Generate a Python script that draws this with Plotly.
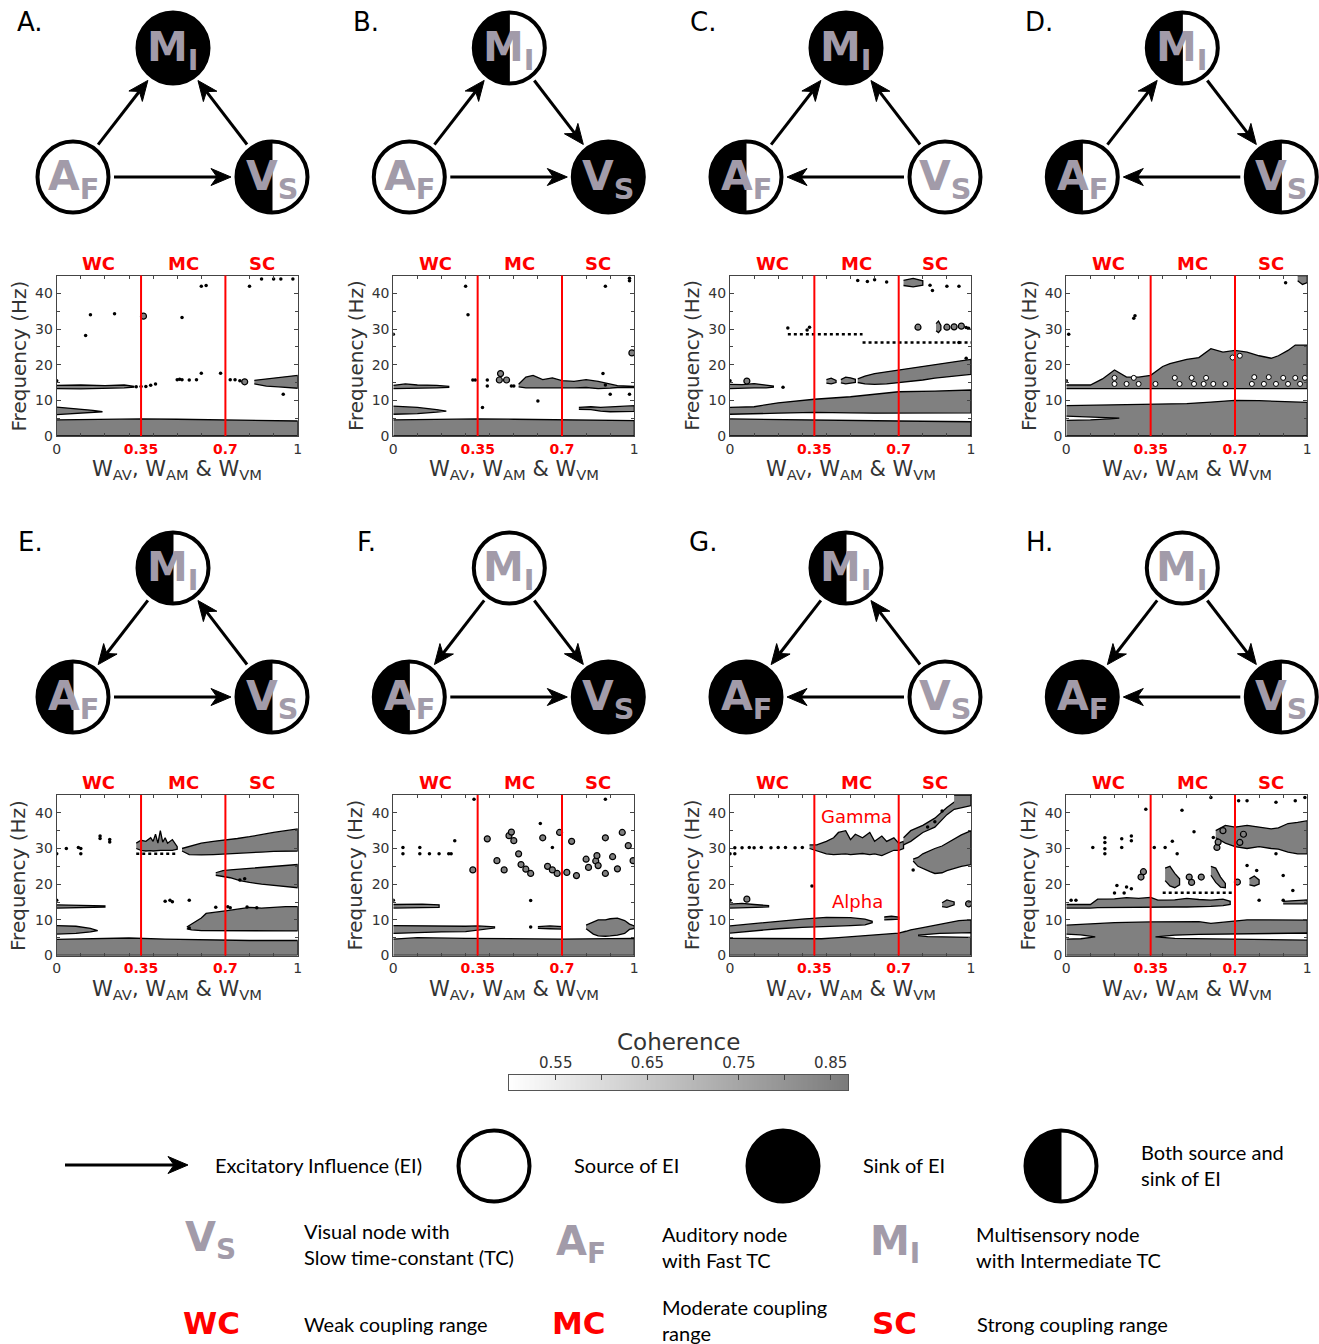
import numpy as np
import plotly.graph_objects as go

W, H = 1319, 1344

# ---------------------------------------------------------------- data
PANEL_LETTERS = ["A.", "B.", "C.", "D.", "E.", "F.", "G.", "H."]
NODE_M = ["sink", "both", "sink", "both", "both", "source", "both", "source"]
NODE_A = ["source", "source", "both", "both", "both", "both", "sink", "sink"]
NODE_V = ["both", "sink", "source", "both", "both", "sink", "source", "both"]
EDGES = [
    [("A", "M"), ("V", "M"), ("A", "V")],
    [("A", "M"), ("M", "V"), ("A", "V")],
    [("A", "M"), ("V", "M"), ("V", "A")],
    [("A", "M"), ("M", "V"), ("V", "A")],
    [("M", "A"), ("V", "M"), ("A", "V")],
    [("M", "A"), ("M", "V"), ("A", "V")],
    [("M", "A"), ("V", "M"), ("V", "A")],
    [("M", "A"), ("M", "V"), ("V", "A")],
]
NODE_TEXT = {"M": "<b>M<sub>I</sub></b>", "A": "<b>A<sub>F</sub></b>", "V": "<b>V<sub>S</sub></b>"}

X_TICKS = [0, 0.35, 0.7, 1]
X_TICK_LABELS = ["0", "0.35", "0.7", "1"]
X_MINOR = [0.1, 0.2, 0.3, 0.4, 0.5, 0.6, 0.7, 0.8, 0.9]
Y_TICKS = [0, 10, 20, 30, 40]
Y_MINOR = [5, 15, 25, 35]
COUPLING_BOUNDS = [0.35, 0.7]
COUPLING_NAMES = ["WC", "MC", "SC"]
COUPLING_CENTERS = [0.175, 0.525, 0.85]
CB_TICKS = [0.55, 0.65, 0.75, 0.85]
CB_MINOR = [0.6, 0.7, 0.8]
CB_RANGE = [0.499, 0.869]

# bands: (coupling strengths, lower freq, upper freq) of coherent regions
A_BANDS = [
    ([0, 0.2, 0.35, 0.5, 0.75, 1], [0, 0, 0, 0, 0, 0], [4.5, 4.7, 4.8, 4.7, 4.4, 4.2]),
    ([0, 0.08, 0.15, 0.19], [6.0, 6.3, 6.6, 6.8], [8.1, 7.7, 7.2, 6.8]),
    ([0, 0.1, 0.2, 0.28, 0.32], [13.3, 13.2, 13.4, 13.5, 13.7], [14.2, 14.3, 14.1, 14.3, 13.9]),
    ([0.82, 0.87, 0.92, 0.96, 1.0], [14.6, 14.0, 13.8, 13.5, 13.4], [15.6, 16.0, 16.2, 16.7, 17.0]),
]
A_HOLES = []
A_BLOBS = [(0.78, 15.2), (0.36, 33.6)]
A_DOTS = [(0.0, 15.5), (0.14, 34.0), (0.24, 34.3), (0.33, 13.8), (0.35, 13.9), (0.37, 13.9), (0.39, 14.2),
          (0.41, 14.6), (0.5, 15.8), (0.51, 15.9), (0.52, 15.8), (0.55, 15.7), (0.58, 15.8), (0.6, 17.6),
          (0.6, 42.0), (0.62, 42.2), (0.68, 17.6), (0.72, 15.8), (0.74, 15.8), (0.76, 15.5), (0.85, 44),
          (0.9, 44), (0.94, 11.7), (0.98, 44), (0.93, 44), (0.12, 28.2), (0.52, 33.2), (0.8, 42)]
A_DOTLINES = []

B_BANDS = [
    ([0, 0.2, 0.35, 0.5, 0.75, 1], [0, 0, 0, 0, 0, 0], [4.5, 4.7, 4.8, 4.7, 4.4, 4.3]),
    ([0, 0.1, 0.18, 0.22], [6.1, 6.3, 6.7, 7.0], [8.4, 8.0, 7.4, 7.0]),
    ([0, 0.05, 0.1, 0.18, 0.23], [13.3, 13.2, 13.4, 13.5, 13.6], [14.2, 14.6, 14.3, 14.2, 13.9]),
    ([0.52, 0.55, 0.58, 0.62, 0.66, 0.7, 0.75, 0.8, 0.85, 0.9, 0.93, 1.0],
     [13.8, 13.5, 13.5, 13.4, 13.4, 13.5, 13.5, 13.6, 13.3, 13.4, 13.6, 13.6],
     [14.5, 16.5, 17.0, 15.8, 16.3, 15.5, 15.3, 15.8, 15.3, 14.5, 14.1, 13.9]),
    ([0.77, 0.82, 0.86, 0.9, 0.95, 1.0], [7.5, 7.4, 7.0, 6.8, 6.8, 6.9], [8.0, 8.2, 8.0, 8.1, 8.4, 8.5]),
]
B_HOLES = []
B_BLOBS = [(0.445, 17.5), (0.44, 15.7), (0.47, 15.7), (0.99, 23.3)]
B_DOTS = [(0.0, 28.5), (0.3, 42), (0.31, 34), (0.33, 15.7), (0.34, 15.7), (0.39, 15.7), (0.39, 14),
          (0.37, 8), (0.49, 14), (0.5, 14), (0.6, 9.8), (0.87, 17.5), (0.88, 14.3), (0.9, 11.7),
          (0.98, 11.7), (0.98, 43.5), (0.98, 44.2), (0.88, 42)]
B_DOTLINES = []

C_BANDS = [
    ([0, 0.35, 0.7, 1], [0, 0, 0, 0], [4.8, 4.4, 4.2, 4.0]),
    ([0, 0.1, 0.2, 0.35, 0.5, 0.6, 0.7, 0.85, 1], [6.1, 6.2, 6.4, 6.6, 6.5, 6.4, 6.3, 6.4, 6.5],
     [8.0, 8.2, 9.3, 10.3, 11.0, 11.8, 12.4, 12.6, 12.9]),
    ([0.53, 0.56, 0.6, 0.65, 0.7, 0.75, 0.8, 0.85, 0.9, 0.95, 1.0],
     [15.0, 14.6, 14.5, 14.6, 14.8, 15.3, 15.7, 16.2, 16.6, 17.0, 17.3],
     [16.0, 16.8, 17.5, 18.0, 18.5, 19.0, 19.3, 19.8, 20.4, 21.0, 21.5]),
    ([0, 0.05, 0.1, 0.15, 0.18], [13.3, 13.4, 13.5, 13.5, 13.7], [14.5, 14.4, 14.7, 14.2, 14.0]),
    ([0.72, 0.76, 0.8], [42.2, 41.8, 42.3], [43.6, 44.2, 43.5]),
    ([0.855, 0.865, 0.875], [29.5, 29.0, 29.8], [31.5, 32.2, 31.0]),
    ([0.40, 0.42, 0.44], [14.8, 14.6, 15.0], [15.8, 16.2, 15.6]),
    ([0.46, 0.48, 0.5, 0.52], [14.9, 14.6, 14.7, 15.0], [15.8, 16.5, 16.3, 15.9]),
]
C_HOLES = []
C_BLOBS = [(0.07, 15.4), (0.78, 30.5), (0.9, 30.5), (0.93, 30.6), (0.96, 30.8)]
C_DOTS = [(0.24, 30.3), (0.33, 30.5), (0.32, 29.7), (0.0, 15.5), (0.22, 13.7), (0.53, 43.6), (0.57, 43.3),
          (0.6, 43.8), (0.65, 43.2), (0.83, 42.3), (0.9, 42), (0.95, 42), (0.98, 30.4), (0.99, 30.2),
          (0.84, 40.8), (0.95, 26.2), (0.98, 21.8)]
C_DOTLINES = [([0.55, 1.0], [26.2, 26.2]), ([0.24, 0.55], [28.5, 28.5])]

D_BANDS = [
    ([0, 0.2, 0.35, 0.5, 0.6, 0.7, 0.8, 0.9, 1.0], [0] * 9, [8.5, 8.7, 9.0, 9.1, 9.5, 10.0, 9.9, 9.6, 9.4]),
    ([0, 0.1, 0.15, 0.2, 0.25, 0.3, 0.35, 0.4, 0.43, 0.47, 0.5, 0.55, 0.6, 0.65, 0.7, 0.75, 0.8, 0.85,
      0.88, 0.92, 0.95, 1.0],
     [13.3] * 22,
     [14.3, 14.3, 16.0, 18.5, 16.5, 16.5, 17.0, 19.5, 20.3, 21.0, 21.5, 22.0, 24.5, 23.5, 24.0, 23.5,
      22.5, 21.8, 22.5, 24.0, 25.5, 25.5]),
    ([0.96, 0.98, 1.0], [43.5, 42.5, 43.0], [45, 45, 45]),
]
D_HOLES = [([0, 0.1, 0.18, 0.22], [4.4, 4.5, 4.8, 5.0], [5.6, 5.4, 5.2, 5.0])]
D_HOLE_DOTS = [(0.2, 14.6), (0.25, 14.6), (0.3, 14.6), (0.37, 14.6), (0.47, 14.6), (0.53, 14.6), (0.57, 14.6),
               (0.61, 14.6), (0.66, 14.6), (0.77, 14.6), (0.82, 14.6), (0.87, 14.6), (0.92, 14.6), (0.97, 14.6),
               (0.2, 16.3), (0.28, 16.3), (0.45, 16.3), (0.52, 16.3), (0.58, 16.3), (0.78, 16.5), (0.84, 16.5),
               (0.9, 16.3), (0.95, 16.3), (0.99, 16.3), (0.69, 22.0), (0.72, 22.5)]
D_BLOBS = []
D_DOTS = [(0.28, 33), (0.285, 33.7), (0.01, 28.5), (0.91, 43), (0.0, 15.5)]
D_DOTLINES = []

E_BANDS = [
    ([0, 0.15, 0.3, 0.45, 0.6, 0.8, 1], [0] * 7, [4.5, 4.8, 4.9, 4.6, 4.4, 4.2, 4.2]),
    ([0, 0.08, 0.14, 0.17], [6.0, 6.2, 6.6, 7.0], [8.4, 8.2, 7.6, 7.0]),
    ([0, 0.1, 0.2], [13.3, 13.4, 13.6], [14.2, 14.1, 13.9]),
    ([0.54, 0.56, 0.6, 0.62, 0.65, 0.7, 0.75, 0.8, 0.85, 0.9, 0.95, 1.0],
     [7.5, 7.2, 7.0, 7.0, 6.9, 6.8, 6.8, 6.8, 6.8, 6.9, 6.9, 6.9],
     [8.0, 8.8, 10.5, 11.8, 12.0, 12.5, 13.0, 13.5, 13.3, 13.6, 13.7, 13.7]),
    ([0.66, 0.69, 0.72, 0.76, 0.8, 0.85, 0.9, 0.95, 1.0],
     [22.5, 22.2, 21.8, 21.0, 20.5, 20.0, 19.6, 19.3, 19.0],
     [23.2, 23.8, 24.0, 24.2, 24.5, 24.8, 25.0, 25.3, 25.5]),
    ([0.52, 0.55, 0.6, 0.65, 0.7, 0.75, 0.8, 0.85, 0.9, 0.95, 1.0],
     [29.3, 28.3, 28.2, 28.3, 28.3, 28.5, 28.8, 29.0, 29.2, 29.3, 29.3],
     [30.0, 30.5, 31.5, 32.0, 32.3, 32.8, 33.3, 34.0, 34.5, 35.0, 35.5]),
    ([0.33, 0.35, 0.37, 0.39, 0.4, 0.41, 0.42, 0.43, 0.44, 0.45, 0.46, 0.48, 0.5],
     [30.0, 29.5, 29.3, 29.4, 29.3, 29.5, 29.4, 29.5, 29.5, 29.5, 29.4, 29.5, 29.8],
     [31.5, 32.3, 32.0, 33.0, 32.0, 34.0, 31.5, 35.0, 31.8, 33.0, 31.5, 32.5, 30.5]),
]
E_HOLES = []
E_BLOBS = []
E_DOTS = [(0.0, 28.5), (0.04, 30), (0.09, 30.3), (0.1, 30), (0.1, 28.5), (0.18, 33.5), (0.18, 32.8),
          (0.22, 32.5), (0.22, 31.8), (0.45, 15.2), (0.47, 15.5), (0.48, 15.1), (0.55, 15.5),
          (0.66, 13.5), (0.71, 13.7), (0.72, 13.4), (0.79, 13.6), (0.83, 13.4), (0.0, 15.5), (0.78, 21.5),
          (0.76, 21.2), (0.55, 7.7)]
E_DOTLINES = [([0.33, 0.5], [28.5, 28.5])]

F_BANDS = [
    ([0, 0.1, 0.3, 0.5, 0.7, 1], [0] * 6, [4.6, 5.0, 4.8, 4.6, 4.6, 4.8]),
    ([0, 0.1, 0.2, 0.3, 0.35, 0.42], [6.2, 6.4, 6.6, 6.7, 7.0, 7.7], [8.4, 8.3, 8.1, 8.2, 8.3, 8.0]),
    ([0, 0.05, 0.12, 0.19], [13.3, 13.3, 13.4, 13.5], [14.3, 14.4, 14.4, 14.2]),
    ([0.6, 0.65, 0.7], [7.6, 7.5, 7.4], [8.1, 8.3, 8.1]),
    ([0.8, 0.83, 0.85, 0.88, 0.9, 0.93, 0.96, 0.98, 1.0],
     [7.5, 6.0, 5.5, 5.4, 5.5, 5.7, 6.2, 7.3, 7.6],
     [8.5, 9.5, 10.0, 10.0, 10.3, 10.5, 9.8, 8.8, 8.3]),
]
F_HOLES = []
F_BLOBS = [(0.33, 24), (0.39, 32.7), (0.48, 33.6), (0.49, 34.6), (0.5, 32.2), (0.52, 28.5), (0.53, 25.5),
           (0.55, 24.2), (0.57, 23), (0.43, 26.6), (0.46, 24.0), (0.62, 33), (0.64, 25), (0.66, 24),
           (0.68, 23), (0.69, 34.5), (0.72, 23.3), (0.74, 32), (0.76, 22.4), (0.8, 27), (0.81, 24.7),
           (0.84, 26.5), (0.845, 28), (0.85, 25.2), (0.88, 23), (0.88, 33), (0.91, 27.7), (0.93, 24.3),
           (0.95, 34.5), (0.975, 30.8), (0.995, 26.6)]
F_DOTS = [(0.61, 37), (0.66, 30.3), (0.88, 43.8), (0.335, 43.8), (0.255, 32.2), (0.04, 28.5), (0.04, 30.3),
          (0.11, 28.5), (0.11, 30.3), (0.15, 28.5), (0.19, 28.5), (0.23, 28.5), (0.24, 28.5), (0.57, 15.4),
          (0.57, 8), (0.0, 15.5)]
F_DOTLINES = []

G_BANDS = [
    ([0, 0.2, 0.38, 0.45, 0.55, 0.6, 0.65, 0.7, 0.73, 0.75, 0.8, 0.85, 0.9, 0.95, 1.0], [0] * 15,
     [4.8, 4.7, 4.7, 5.0, 5.5, 5.9, 6.1, 6.3, 6.8, 7.2, 7.8, 8.5, 9.2, 9.8, 10.0]),
    ([0, 0.1, 0.2, 0.3, 0.4, 0.5, 0.56, 0.59], [6.3, 6.9, 7.5, 7.9, 8.2, 8.4, 8.6, 9.2],
     [8.3, 9.0, 9.6, 10.2, 10.7, 10.6, 10.2, 9.6]),
    ([0.64, 0.67, 0.7], [10.0, 10.1, 10.2], [10.8, 11.0, 10.8]),
    ([0, 0.05, 0.1, 0.16], [13.3, 13.4, 13.5, 13.6], [14.4, 14.6, 14.3, 14.0]),
    ([0.88, 0.9, 0.93], [13.7, 13.5, 14.2], [14.8, 15.6, 15.0]),
    ([0.33, 0.36, 0.4, 0.43, 0.45, 0.48, 0.5, 0.52, 0.55, 0.58, 0.6, 0.63, 0.65, 0.68, 0.7, 0.72],
     [30.0, 29.3, 28.5, 28.3, 28.4, 28.5, 28.3, 28.5, 28.6, 28.3, 28.5, 28.0, 28.5, 29.5, 29.5, 30.0],
     [31.0, 31.0, 32.0, 33.0, 34.5, 35.0, 32.5, 34.0, 33.0, 34.5, 32.0, 33.5, 32.0, 33.0, 31.5, 32.0]),
    ([0.72, 0.75, 0.8, 0.85, 0.9, 0.94, 0.97], [31.0, 32.0, 34.5, 36.0, 39.5, 41.5, 42.5],
     [33.0, 35.0, 36.5, 38.5, 41.5, 43.5, 45.0]),
    ([0.76, 0.78, 0.8, 0.83, 0.85, 0.88, 0.9, 0.93, 0.96, 1.0],
     [26.5, 25.0, 24.5, 23.5, 23.0, 23.2, 23.8, 24.5, 25.0, 25.5],
     [27.0, 27.5, 28.5, 29.5, 30.0, 30.7, 31.5, 32.5, 33.8, 35.0]),
    ([0.93, 0.97, 1.0], [41.0, 41.5, 42.0], [45.0, 45.0, 45.0]),
]
G_HOLES = [([0.78, 0.82, 0.87, 0.92, 0.96, 1.0], [5.6, 5.3, 5.2, 5.1, 5.1, 5.1], [5.7, 6.0, 6.2, 6.3, 6.3, 6.4])]
G_BLOBS = [(0.07, 15.8), (0.99, 14.5)]
G_DOTS = [(0.02, 30.2), (0.05, 30.2), (0.08, 30.3), (0.1, 30.2), (0.13, 30.3), (0.17, 30.2), (0.2, 30.3),
          (0.23, 30.3), (0.27, 30.2), (0.3, 30.3), (0.0, 28.5), (0.02, 28.5), (0.34, 19.5), (0.76, 24.0),
          (0.85, 37.5), (0.82, 36.0), (0.88, 40.5), (0.0, 15.5)]
G_DOTLINES = []

H_BANDS = [
    ([0, 0.1, 0.2, 0.35, 0.45, 0.55, 0.6, 0.65, 0.7, 0.75, 0.8, 0.9, 1.0], [0] * 13,
     [8.5, 8.8, 9.2, 9.4, 9.5, 9.5, 9.0, 9.3, 9.6, 10.0, 10.0, 10.0, 9.9]),
    ([0, 0.1, 0.13, 0.2, 0.25, 0.3, 0.35, 0.38, 0.45, 0.5, 0.55, 0.6, 0.65, 0.68],
     [13.3, 13.3, 13.4, 13.5, 13.5, 13.5, 13.5, 13.6, 13.6, 13.6, 13.6, 13.8, 14.0, 14.3],
     [14.3, 14.3, 15.8, 15.9, 16.2, 16.0, 16.3, 15.5, 15.6, 16.0, 15.7, 15.5, 15.8, 15.2]),
    ([0.9, 0.95, 1.0], [14.5, 14.6, 14.5], [15.2, 15.4, 15.6]),
    ([0.62, 0.66, 0.7, 0.75, 0.8, 0.85, 0.88, 0.92, 0.96, 1.0],
     [33.0, 31.5, 30.5, 30.0, 30.5, 30.0, 29.8, 29.0, 28.5, 28.5],
     [35.0, 36.5, 36.0, 36.5, 36.0, 35.5, 35.8, 37.0, 37.3, 37.8]),
    ([0.41, 0.43, 0.45, 0.47], [21.0, 19.5, 19.0, 19.8], [24.5, 25.0, 23.0, 21.5]),
    ([0.6, 0.62, 0.64, 0.66], [22.5, 20.5, 19.2, 19.0], [25.0, 24.5, 22.0, 20.2]),
    ([0.76, 0.78, 0.8], [19.8, 19.5, 20.0], [21.5, 22.3, 21.2]),
]
H_HOLES = [([0, 0.06, 0.12], [4.6, 4.7, 5.2], [6.0, 5.8, 5.2]),
           ([0.37, 0.45, 0.55, 0.7, 0.85, 1.0], [5.2, 4.8, 4.6, 4.5, 4.4, 4.3], [5.2, 5.7, 5.9, 6.0, 6.1, 6.3])]
H_BLOBS = [(0.31, 22), (0.32, 23.5), (0.51, 22), (0.52, 20.5), (0.56, 22), (0.71, 20.6),
           (0.625, 30.3), (0.63, 31.8), (0.65, 35), (0.72, 31.7), (0.735, 34)]
H_DOTS = [(0.16, 31.7), (0.16, 33.0), (0.16, 29.9), (0.23, 32.7), (0.23, 30.3), (0.27, 32.2), (0.27, 33.5),
          (0.11, 30.3), (0.16, 28.5), (0.365, 30.3), (0.41, 30.3), (0.44, 32), (0.46, 28.5), (0.33, 41),
          (0.48, 40.7), (0.53, 34.7), (0.61, 33.1), (0.6, 44.3), (0.715, 43.4), (0.75, 43.4), (0.87, 43),
          (0.95, 43.4), (0.99, 44.3), (0.75, 25.2), (0.79, 23.8), (0.87, 28.5), (0.9, 22.4), (0.94, 18.2),
          (0.21, 19.6), (0.25, 19.2), (0.27, 18.7), (0.2, 17.5), (0.24, 17.5), (0.02, 15.5), (0.04, 15.5),
          (0.8, 15.5), (0.9, 15.5)]
H_DOTLINES = [([0.4, 0.7], [17.6, 17.6])]

PANEL_BANDS = [A_BANDS, B_BANDS, C_BANDS, D_BANDS, E_BANDS, F_BANDS, G_BANDS, H_BANDS]
PANEL_HOLES = [A_HOLES, B_HOLES, C_HOLES, D_HOLES, E_HOLES, F_HOLES, G_HOLES, H_HOLES]
PANEL_BLOBS = [A_BLOBS, B_BLOBS, C_BLOBS, D_BLOBS, E_BLOBS, F_BLOBS, G_BLOBS, H_BLOBS]
PANEL_DOTS = [A_DOTS, B_DOTS, C_DOTS, D_DOTS, E_DOTS, F_DOTS, G_DOTS, H_DOTS]
PANEL_DOTLINES = [A_DOTLINES, B_DOTLINES, C_DOTLINES, D_DOTLINES, E_DOTLINES, F_DOTLINES, G_DOTLINES, H_DOTLINES]
PANEL_HOLE_DOTS = [[], [], [], D_HOLE_DOTS, [], [], [], []]

G_ANNOT = [("Gamma", 0.525, 39.0), ("Alpha", 0.53, 15.0)]

# ---------------------------------------------------------------- style / layout
GRAY = "#808080"
NODE_GRAY = "#a29ba9"
RED = "#ff0000"
TXT = "#333333"
PLOT_FONT = "DejaVu Sans"
LEG_FONT = "Lato"

COL_X0 = [56.7, 393.3, 730.0, 1066.3]
ROW_Y0 = [275.5, 795.0]
PW, PH = 241.0, 160.5
DIAG_DX = [0, 336.3, 673.0, 1009.3]
DIAG_DY = [0, 520]
NODE_POS = {"M": (173, 48), "A": (73, 177), "V": (272, 177)}
R_NODE = 35.5
TRIM = 41
HEAD_L, HEAD_W = 20.0, 8.5

fig = go.Figure()
shapes, annots = [], []
layout = {}


def circle_shape(cx, cy, state):
    out = []
    fill = {"source": "white", "sink": "black", "both": "white"}[state]
    out.append(dict(type="circle", xref="x9", yref="y9", x0=cx - R_NODE, x1=cx + R_NODE,
                    y0=cy - R_NODE, y1=cy + R_NODE, fillcolor=fill,
                    line=dict(color="black", width=4), layer="above"))
    if state == "both":
        t = np.linspace(np.pi / 2, 3 * np.pi / 2, 40)
        pts = ["{:.2f},{:.2f}".format(cx + R_NODE * np.cos(a), cy + R_NODE * np.sin(a)) for a in t]
        path = "M " + " L ".join(pts) + " Z"
        out.append(dict(type="path", xref="x9", yref="y9", path=path, fillcolor="black",
                        line=dict(color="black", width=1), layer="above"))
    return out


def arrow_shapes(sx, sy, tx, ty):
    L = np.hypot(tx - sx, ty - sy)
    ux, uy = (tx - sx) / L, (ty - sy) / L
    nx, ny = -uy, ux
    bx, by = tx - ux * HEAD_L * 0.7, ty - uy * HEAD_L * 0.7
    out = [dict(type="line", xref="x9", yref="y9", x0=sx, y0=sy, x1=bx, y1=by,
                line=dict(color="black", width=3), layer="above")]
    p1 = (tx - ux * HEAD_L + nx * HEAD_W, ty - uy * HEAD_L + ny * HEAD_W)
    p2 = (tx - ux * HEAD_L - nx * HEAD_W, ty - uy * HEAD_L - ny * HEAD_W)
    path = "M {:.2f},{:.2f} L {:.2f},{:.2f} L {:.2f},{:.2f} L {:.2f},{:.2f} Z".format(
        tx, ty, p1[0], p1[1], bx, by, p2[0], p2[1])
    out.append(dict(type="path", xref="x9", yref="y9", path=path, fillcolor="black",
                    line=dict(color="black", width=1), layer="above"))
    return out


for i in range(8):
    row, col = divmod(i, 4)
    sfx = "" if i == 0 else str(i + 1)
    xa, ya = "x" + sfx, "y" + sfx
    x0, y0 = COL_X0[col], ROW_Y0[row]
    layout["xaxis" + sfx] = dict(
        domain=[x0 / W, (x0 + PW) / W], anchor=ya, range=[0, 1], automargin=False,
        tickmode="array", tickvals=X_TICKS,
        ticktext=[
            t if t in ("0", "1") else '<span style="color:%s"><b>%s</b></span>' % (RED, t)
            for t in X_TICK_LABELS],
        ticks="inside", ticklen=4, tickcolor="#444", mirror="allticks", showline=True,
        linecolor="#444", linewidth=1, showgrid=False, zeroline=False,
        tickfont=dict(family=PLOT_FONT, size=14, color=TXT),
        minor=dict(tickvals=X_MINOR, ticks="inside", ticklen=3, tickcolor="#444"),
    )
    layout["yaxis" + sfx] = dict(
        domain=[1 - (y0 + PH) / H, 1 - y0 / H], anchor=xa, range=[0, 45], automargin=False,
        tickmode="array", tickvals=Y_TICKS, ticks="inside", ticklen=4, tickcolor="#444",
        mirror="allticks", showline=True, linecolor="#444", linewidth=1, showgrid=False,
        zeroline=False, tickfont=dict(family=PLOT_FONT, size=14, color=TXT),
        minor=dict(tickvals=Y_MINOR, ticks="inside", ticklen=3, tickcolor="#444"),
    )

    for xs, lo, hi in PANEL_BANDS[i]:
        fig.add_trace(go.Scatter(x=list(xs) + list(xs)[::-1], y=list(hi) + list(lo)[::-1],
                                 fill="toself", fillcolor=GRAY, mode="lines",
                                 line=dict(color="black", width=1.3), xaxis=xa, yaxis=ya,
                                 hoverinfo="skip"))
    for xs, lo, hi in PANEL_HOLES[i]:
        fig.add_trace(go.Scatter(x=list(xs) + list(xs)[::-1], y=list(hi) + list(lo)[::-1],
                                 fill="toself", fillcolor="white", mode="lines",
                                 line=dict(color="black", width=1.3), xaxis=xa, yaxis=ya,
                                 hoverinfo="skip"))
    if PANEL_HOLE_DOTS[i]:
        hx, hy = zip(*PANEL_HOLE_DOTS[i])
        fig.add_trace(go.Scatter(x=hx, y=hy, mode="markers", xaxis=xa, yaxis=ya,
                                 marker=dict(size=5, color="white", line=dict(color="black", width=1)),
                                 hoverinfo="skip"))
    for xs, ys in PANEL_DOTLINES[i]:
        fig.add_trace(go.Scatter(x=xs, y=ys, mode="lines", xaxis=xa, yaxis=ya,
                                 line=dict(color="black", width=2.5, dash="dot"), hoverinfo="skip"))
    if PANEL_BLOBS[i]:
        bx, by = zip(*PANEL_BLOBS[i])
        fig.add_trace(go.Scatter(x=bx, y=by, mode="markers", xaxis=xa, yaxis=ya,
                                 marker=dict(size=6, color=GRAY, line=dict(color="black", width=1.2)),
                                 hoverinfo="skip"))
    if PANEL_DOTS[i]:
        dx, dy = zip(*PANEL_DOTS[i])
        fig.add_trace(go.Scatter(x=dx, y=dy, mode="markers", xaxis=xa, yaxis=ya,
                                 marker=dict(size=3.5, color="black"), hoverinfo="skip"))

    for b in COUPLING_BOUNDS:
        shapes.append(dict(type="line", xref=xa, yref=ya + " domain", x0=b, x1=b, y0=0, y1=1,
                           line=dict(color=RED, width=2), layer="above"))
    for name, cxv in zip(COUPLING_NAMES, COUPLING_CENTERS):
        annots.append(dict(xref=xa, yref=ya + " domain", x=cxv, y=1, yanchor="middle", yshift=12,
                           text="<b>%s</b>" % name, showarrow=False,
                           font=dict(family=PLOT_FONT, size=18, color=RED)))
    if i == 6:
        for t, gx, gy in G_ANNOT:
            annots.append(dict(xref=xa, yref=ya, x=gx, y=gy, text=t, showarrow=False,
                               font=dict(family=PLOT_FONT, size=18, color=RED)))

    # axis titles
    annots.append(dict(xref="x9", yref="y9", x=x0 - 38, y=y0 + PH / 2, text="Frequency (Hz)",
                       textangle=-90, showarrow=False,
                       font=dict(family=PLOT_FONT, size=20, color=TXT)))
    annots.append(dict(xref="x9", yref="y9", x=x0 + PW / 2, y=y0 + PH + 34,
                       text="W<sub>AV</sub>, W<sub>AM</sub> &amp; W<sub>VM</sub>", showarrow=False,
                       font=dict(family=PLOT_FONT, size=21, color=TXT)))

    # network diagram
    ox, oy = DIAG_DX[col], DIAG_DY[row]
    annots.append(dict(xref="x9", yref="y9", x=30 + ox, y=22 + oy, text=PANEL_LETTERS[i],
                       showarrow=False, font=dict(family=PLOT_FONT, size=26, color="black")))
    states = {"M": NODE_M[i], "A": NODE_A[i], "V": NODE_V[i]}
    for key in ("M", "A", "V"):
        cx, cy = NODE_POS[key][0] + ox, NODE_POS[key][1] + oy
        shapes.extend(circle_shape(cx, cy, states[key]))
        annots.append(dict(xref="x9", yref="y9", x=cx, y=cy, yshift=-2, text=NODE_TEXT[key],
                           showarrow=False, font=dict(family=PLOT_FONT, size=41, color=NODE_GRAY)))
    for s, d in EDGES[i]:
        sx, sy = NODE_POS[s][0] + ox, NODE_POS[s][1] + oy
        tx, ty = NODE_POS[d][0] + ox, NODE_POS[d][1] + oy
        L = np.hypot(tx - sx, ty - sy)
        ux, uy = (tx - sx) / L, (ty - sy) / L
        shapes.extend(arrow_shapes(sx + ux * TRIM, sy + uy * TRIM, tx - ux * TRIM, ty - uy * TRIM))

# overlay pixel axes
fig.add_trace(go.Scatter(x=[0], y=[0], mode="markers", marker=dict(opacity=0), xaxis="x9", yaxis="y9",
                         hoverinfo="skip"))
layout["xaxis9"] = dict(domain=[0, 1], range=[0, W], visible=False, anchor="y9", automargin=False)
layout["yaxis9"] = dict(domain=[0, 1], range=[H, 0], visible=False, anchor="x9", automargin=False)

# colour bar
cb_x = np.linspace(CB_RANGE[0], CB_RANGE[1], 200)
fig.add_trace(go.Heatmap(x=cb_x, y=[0], z=[cb_x], colorscale=[[0, "#ffffff"], [1, "#7b7b7b"]],
                         zmin=CB_RANGE[0], zmax=CB_RANGE[1], showscale=False, xaxis="x10", yaxis="y10",
                         hoverinfo="skip"))
layout["xaxis10"] = dict(domain=[509 / W, 848 / W], range=CB_RANGE, anchor="y10", side="top",
                         tickvals=CB_TICKS, ticks="inside", ticklen=5, tickcolor="#444", automargin=False,
                         showline=True, mirror=True, linecolor="#555", linewidth=1,
                         tickfont=dict(family=PLOT_FONT, size=15, color=TXT), showgrid=False,
                         zeroline=False,
                         minor=dict(tickvals=CB_MINOR, ticks="inside", ticklen=5, tickcolor="#444"))
layout["yaxis10"] = dict(domain=[1 - 1090 / H, 1 - 1075 / H], range=[-0.5, 0.5], anchor="x10",
                         showline=True, mirror=True, linecolor="#555", linewidth=1, automargin=False,
                         showticklabels=False, ticks="", showgrid=False, zeroline=False)
annots.append(dict(xref="x9", yref="y9", x=678, y=1042, text="Coherence", showarrow=False,
                   font=dict(family=PLOT_FONT, size=23, color=TXT)))

# ---------------------------------------------------------------- legend
LEG_FS = 20
shapes.extend(arrow_shapes(65, 1165, 188, 1165))
leg_texts = [
    (213, 1165, "Excitatory Influence (EI)"),
    (572, 1165, "Source of EI"),
    (861, 1165, "Sink of EI"),
    (1139, 1165, "Both source and<br>sink of EI"),
    (302, 1244, "Visual node with<br>Slow time-constant (TC)"),
    (660, 1247, "Auditory node<br>with Fast TC"),
    (974, 1247, "Multisensory node<br>with Intermediate TC"),
    (302, 1324, "Weak coupling range"),
    (660, 1320, "Moderate coupling<br>range"),
    (975, 1324, "Strong coupling range"),
]
for lx, ly, t in leg_texts:
    annots.append(dict(xref="x9", yref="y9", x=lx, y=ly, xanchor="left", yanchor="middle", align="left",
                       text=t, showarrow=False, font=dict(family=LEG_FONT, size=LEG_FS, color="black")))
shapes.extend(circle_shape(494, 1166, "source"))
shapes.extend(circle_shape(783, 1166, "sink"))
shapes.extend(circle_shape(1061, 1166, "both"))
for lx, ly, key in [(210, 1240, "V"), (581, 1244, "A"), (895, 1244, "M")]:
    annots.append(dict(xref="x9", yref="y9", x=lx, y=ly, text=NODE_TEXT[key], showarrow=False,
                       font=dict(family=PLOT_FONT, size=40, color=NODE_GRAY)))
for lx, name in [(211, "WC"), (579, "MC"), (894, "SC")]:
    annots.append(dict(xref="x9", yref="y9", x=lx, y=1323, text="<b>%s</b>" % name, showarrow=False,
                       font=dict(family=PLOT_FONT, size=31, color=RED)))

fig.update_layout(
    width=W, height=H, margin=dict(l=0, r=0, t=0, b=0, pad=0, autoexpand=False), showlegend=False,
    paper_bgcolor="white", plot_bgcolor="rgba(0,0,0,0)",
    shapes=shapes, annotations=annots, **layout,
)
fig.write_html("out.html")
